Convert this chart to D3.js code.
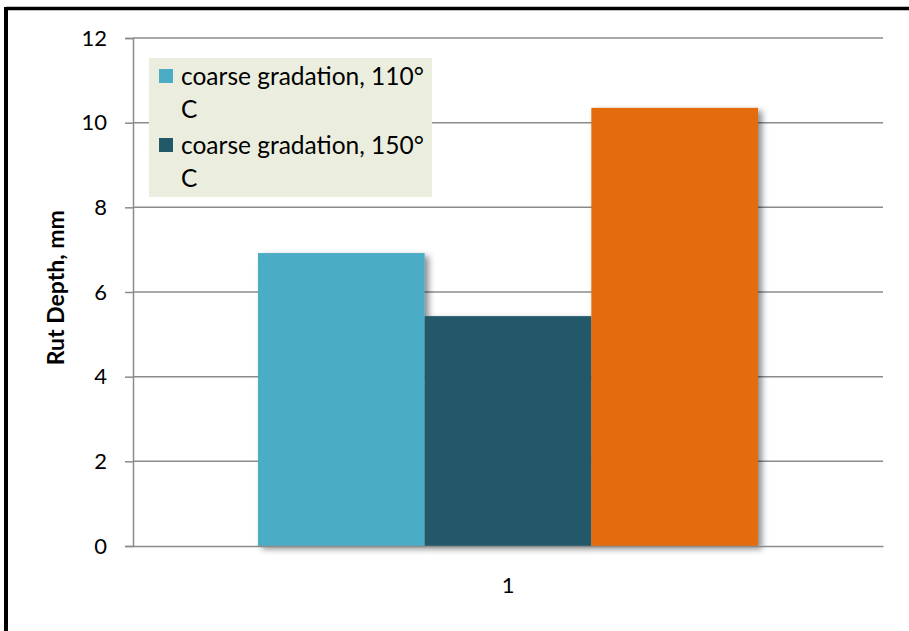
<!DOCTYPE html>
<html>
<head>
<meta charset="utf-8">
<script src="https://cdn.jsdelivr.net/npm/d3@7/dist/d3.min.js"></script>
<style>
  html, body { margin: 0; padding: 0; background: #fff; overflow: hidden; }
  svg { display: block; }
  text { font-family: Lato, "Open Sans", sans-serif; fill: #000; }
</style>
</head>
<body>
<svg id="chart" width="909" height="631"></svg>
<script>
// Rut depth by mix
const categories = ["1"];
const seriesNames = ["coarse gradation, 110° C", "coarse gradation, 150° C", "fine gradation, 150° C"];
const seriesValues = [6.92, 5.43, 10.35];
const seriesColors = ["#4BACC6", "#215968", "#E46C0A"];
const yTicks = [0, 2, 4, 6, 8, 10, 12];
const yTitle = "Rut Depth, mm";

const svg = d3.select("#chart");
const W = 909, H = 631;
const m = { left: 133, right: 26, top: 38, bottom: 85 };
const font = "Lato, 'Open Sans', sans-serif";

// outer frame: top and left edges
svg.append("line").attr("x1", 6).attr("x2", W).attr("y1", 8.5).attr("y2", 8.5)
  .attr("stroke", "#000").attr("stroke-width", 3.5);
svg.append("line").attr("x1", 6).attr("x2", 6).attr("y1", 7).attr("y2", H)
  .attr("stroke", "#000").attr("stroke-width", 4);

// drop shadow for bars
const defs = svg.append("defs");
const f = defs.append("filter").attr("id", "shadow")
  .attr("x", "-10%").attr("y", "-10%").attr("width", "130%").attr("height", "130%");
f.append("feDropShadow").attr("dx", 4).attr("dy", 3)
  .attr("stdDeviation", 3).attr("flood-color", "#000").attr("flood-opacity", 0.45);

const x0 = d3.scaleBand().domain(categories)
  .range([m.left, W - m.right]).paddingInner(0).paddingOuter(0.25);
const x1 = d3.scaleBand().domain(d3.range(seriesValues.length))
  .range([0, x0.bandwidth()]).padding(0);
const y = d3.scaleLinear().domain([0, 12]).range([H - m.bottom, m.top]);

// gridlines
svg.append("g").selectAll("line").data(yTicks.filter(d => d > 0)).join("line")
  .attr("x1", m.left).attr("x2", W - m.right)
  .attr("y1", d => y(d)).attr("y2", d => y(d))
  .attr("stroke", "#8c8c8c").attr("stroke-width", 1.5);

// y axis
const yAxis = svg.append("g").attr("transform", `translate(${m.left},0)`)
  .call(d3.axisLeft(y).tickValues(yTicks).tickSize(8).tickPadding(18).tickFormat(d3.format("d")));
yAxis.select(".domain").attr("stroke", "#8c8c8c").attr("stroke-width", 1.5);
yAxis.selectAll(".tick line").attr("stroke", "#8c8c8c").attr("stroke-width", 1.5);
yAxis.selectAll(".tick text").style("font-size", "22px").style("font-family", font).attr("fill", "#000");

// bars
const bars = svg.append("g").attr("filter", "url(#shadow)");
categories.forEach(c => {
  bars.selectAll(null).data(seriesValues).join("rect")
    .attr("x", (d, i) => x0(c) + x1(i))
    .attr("y", d => y(d))
    .attr("width", x1.bandwidth())
    .attr("height", d => y(0) - y(d))
    .attr("fill", (d, i) => seriesColors[i]);
});

// x axis
const xAxis = svg.append("g").attr("transform", `translate(0,${y(0)})`)
  .call(d3.axisBottom(x0).tickSize(0).tickPadding(31));
xAxis.select(".domain").attr("stroke", "#8c8c8c").attr("stroke-width", 1.5);
xAxis.selectAll(".tick text").style("font-size", "22px").style("font-family", font).attr("fill", "#000");

// y-axis title
svg.append("text")
  .attr("transform", `translate(64,${y(6.1)}) rotate(-90)`)
  .attr("text-anchor", "middle")
  .style("font-size", "23px").style("font-weight", "bold")
  .text(yTitle);

// legend (box clips entries that do not fit)
const lg = { x: 149, y: 58, w: 283, h: 139 };
defs.append("clipPath").attr("id", "legclip")
  .append("rect").attr("x", lg.x).attr("y", lg.y).attr("width", lg.w).attr("height", lg.h);
const legend = svg.append("g").attr("clip-path", "url(#legclip)");
legend.append("rect").attr("x", lg.x).attr("y", lg.y).attr("width", lg.w).attr("height", lg.h)
  .attr("fill", "#EBEEDF");
seriesNames.forEach((name, i) => {
  const top = lg.y + 11 + i * 69;
  legend.append("rect").attr("x", 159).attr("y", top).attr("width", 14).attr("height", 14)
    .attr("fill", seriesColors[i]);
  const parts = name.split(" C");
  const t = legend.append("text").attr("x", 181).attr("y", top + 16).style("font-size", "24.5px");
  t.append("tspan").attr("x", 181).text(parts[0]);
  t.append("tspan").attr("x", 181).attr("dy", 33).text("C");
});
</script>
</body>
</html>
